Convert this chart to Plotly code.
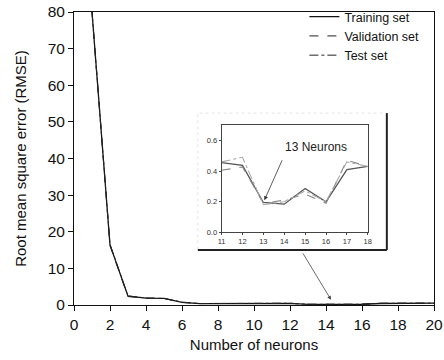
import plotly.graph_objects as go

neurons = list(range(1, 21))
train = [80, 16.4, 2.4, 1.9, 1.8, 0.7, 0.4, 0.4, 0.4, 0.42, 0.455, 0.437, 0.195, 0.184, 0.286, 0.199, 0.41, 0.43, 0.5, 0.5]
valid = [80, 16.2, 2.3, 1.9, 1.8, 0.7, 0.4, 0.4, 0.4, 0.41, 0.405, 0.427, 0.19, 0.21, 0.25, 0.19, 0.47, 0.43, 0.5, 0.5]
test = [80, 16.6, 2.5, 1.9, 1.8, 0.8, 0.4, 0.4, 0.4, 0.43, 0.46, 0.49, 0.18, 0.2, 0.27, 0.2, 0.46, 0.43, 0.5, 0.5]

inset_x = neurons[10:18]
inset_train = train[10:18]
inset_valid = valid[10:18]
inset_test = test[10:18]

xticks = list(range(0, 21, 2))
yticks = list(range(0, 81, 10))
inset_xticks = list(range(11, 19))
inset_yticks = [0.0, 0.2, 0.4, 0.6]

FONT = "Liberation Sans, Arial, sans-serif"

fig = go.Figure()
fig.add_trace(go.Scatter(x=neurons, y=train, mode="lines", name="Training set",
                         line=dict(color="#111", width=1.3, dash="solid")))
fig.add_trace(go.Scatter(x=neurons, y=valid, mode="lines", name="Validation set",
                         line=dict(color="#222", width=1.0, dash="dash")))
fig.add_trace(go.Scatter(x=neurons, y=test, mode="lines", name="Test set",
                         line=dict(color="#222", width=1.0, dash="dashdot")))

fig.add_trace(go.Scatter(x=inset_x, y=inset_train, mode="lines", showlegend=False,
                         xaxis="x2", yaxis="y2", line=dict(color="#555", width=1.3)))
fig.add_trace(go.Scatter(x=inset_x, y=inset_valid, mode="lines", showlegend=False,
                         xaxis="x2", yaxis="y2", line=dict(color="#888", width=1.1, dash="dash")))
fig.add_trace(go.Scatter(x=inset_x, y=inset_test, mode="lines", showlegend=False,
                         xaxis="x2", yaxis="y2", line=dict(color="#aaa", width=1.1, dash="dashdot")))

fig.update_layout(
    width=444, height=360,
    margin=dict(l=74, r=10, t=12, b=55, autoexpand=False),
    paper_bgcolor="white", plot_bgcolor="white",
    font=dict(family=FONT, color="#111", size=15.5),
    showlegend=True,
    legend=dict(x=0.64, y=1.034, xanchor="left", yanchor="top",
                bgcolor="rgba(0,0,0,0)", font=dict(size=12.5), tracegroupgap=0,
                itemwidth=30),
    xaxis=dict(range=[0, 20], tickvals=xticks, showgrid=False, zeroline=False,
               showline=True, linecolor="#111", linewidth=1, mirror=True,
               ticks="outside", ticklen=5, tickcolor="#111", automargin=False,
               title=dict(text="Number of neurons", font=dict(size=15), standoff=7)),
    yaxis=dict(range=[0, 80], tickvals=yticks, showgrid=False, zeroline=False,
               showline=True, linecolor="#111", linewidth=1, mirror=True,
               ticks="outside", ticklen=5, tickcolor="#111", automargin=False,
               title=dict(text="Root mean square error (RMSE)", font=dict(size=15), standoff=17)),
    xaxis2=dict(domain=[0.410, 0.816], anchor="y2", range=[11, 18], tickvals=inset_xticks,
                showgrid=False, zeroline=False, showline=True, linecolor="#444", mirror=True,
                ticks="outside", ticklen=2, tickcolor="#444", automargin=False,
                tickfont=dict(size=7.5, color="#333")),
    yaxis2=dict(domain=[0.248, 0.614], anchor="x2", range=[0, 0.7], tickvals=inset_yticks,
                tickformat=".1f", showgrid=False, zeroline=False, showline=True,
                linecolor="#444", mirror=True, ticks="outside", ticklen=2, tickcolor="#444",
                automargin=False, tickfont=dict(size=7.5, color="#333")),
    shapes=[
        dict(type="rect", xref="paper", yref="paper", x0=0.344, x1=0.869, y0=0.188, y1=0.655,
             fillcolor="white", line=dict(color="#e4e4e4", width=1, dash="dot"), layer="below"),
        dict(type="line", xref="paper", yref="paper", x0=0.869, x1=0.869, y0=0.188, y1=0.655,
             line=dict(color="#222", width=2)),
        dict(type="line", xref="paper", yref="paper", x0=0.344, x1=0.869, y0=0.188, y1=0.188,
             line=dict(color="#222", width=2)),
    ],
    annotations=[
        dict(x=13.05, y=0.21, xref="x2", yref="y2", ax=13.93, ay=0.48, axref="x2", ayref="y2",
             text="", showarrow=True, arrowhead=2, arrowsize=1, arrowwidth=0.8, arrowcolor="#333"),
        dict(x=15.5, y=0.555, xref="x2", yref="y2", text="13 Neurons", showarrow=False,
             font=dict(size=12, color="#222")),
        dict(x=14.28, y=1.4, xref="x", yref="y", ax=12.67, ay=14.5, axref="x", ayref="y",
             text="", showarrow=True, arrowhead=2, arrowsize=1, arrowwidth=0.8, arrowcolor="#444"),
    ],
)

fig.write_html("out.html")
